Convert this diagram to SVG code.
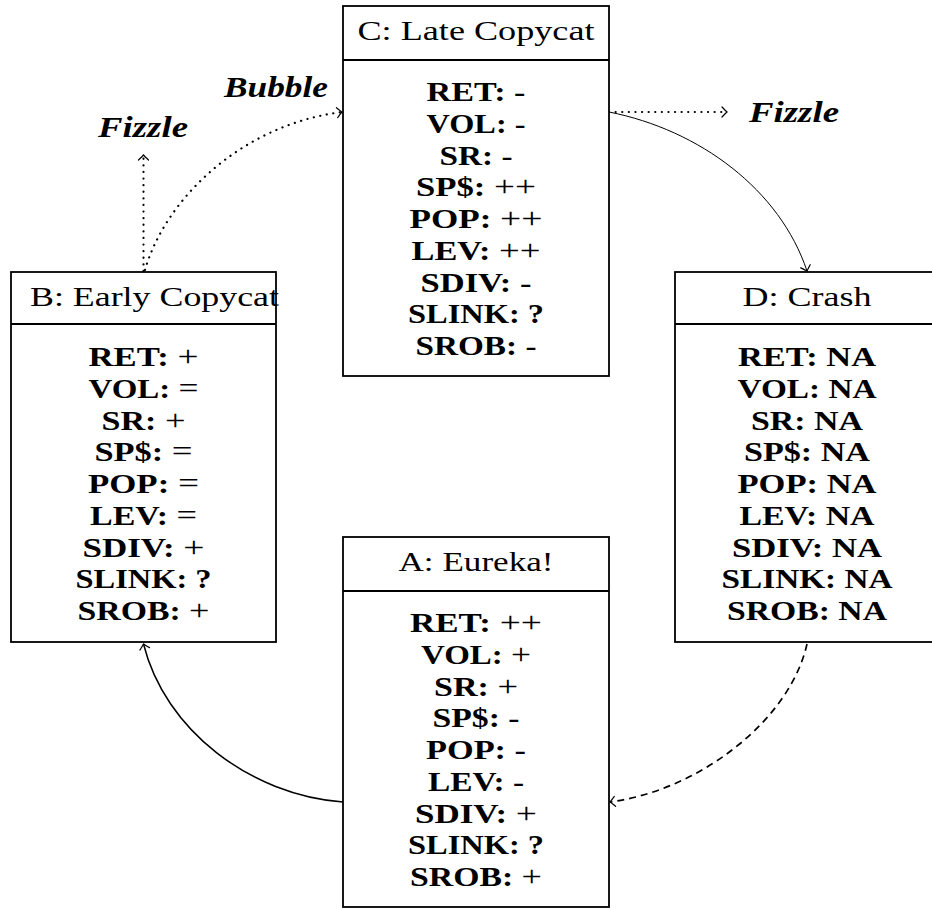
<svg xmlns="http://www.w3.org/2000/svg" width="932" height="909" viewBox="0 0 932 909">
<style>
.box{fill:#fff;stroke:#000;stroke-width:1.8}
.div{stroke:#000;stroke-width:1.8}
.h{font-family:"Liberation Serif",serif;font-size:28px;fill:#000}
.b{font-family:"Liberation Serif",serif;font-size:28px;font-weight:bold;fill:#000;text-anchor:middle}
.m{font-weight:normal;font-size:30px}
.lbl{font-family:"Liberation Serif",serif;font-size:30px;font-weight:bold;font-style:italic;fill:#000}
.c{fill:none;stroke:#000}
.thin{stroke-width:1}
.solid{stroke-width:1.5}
.dot{stroke-width:2.2;stroke-dasharray:0.1 6.5;stroke-linecap:round}
.dash{stroke-width:1.7;stroke-dasharray:7 5}
</style>
<defs>
<marker id="arr" markerUnits="userSpaceOnUse" markerWidth="14" markerHeight="14" viewBox="-7 -7 14 14" refX="0" refY="0" orient="auto" overflow="visible">
<path d="M-5,-5 Q-1.3,-1.1 0,0 Q-1.3,1.1 -5,5" fill="none" stroke="#000" stroke-width="1.2" stroke-dasharray="none" stroke-linecap="round"/>
</marker>
</defs>

<g id="connectors">
<path class="c thin" d="M609,112 C700,130 780,190 807,271" marker-end="url(#arr)"/>
<path class="c dot" d="M609,112 L727,112" marker-end="url(#arr)"/>
<path class="c dot" d="M145,270 C165,200 240,125 342,112" marker-end="url(#arr)"/>
<path class="c dot" d="M143.5,271 L143.5,155" marker-end="url(#arr)"/>
<path class="c solid" d="M343,802 C250,795 165,730 143.5,644" marker-end="url(#arr)"/>
<path class="c dash" d="M807,644 C790,720 700,790 610,802" marker-end="url(#arr)"/>
</g>

<g id="labels">
<text class="lbl" x="224" y="97" textLength="104" lengthAdjust="spacingAndGlyphs">Bubble</text>
<text class="lbl" x="98" y="137" textLength="90" lengthAdjust="spacingAndGlyphs">Fizzle</text>
<text class="lbl" x="749" y="122" textLength="90" lengthAdjust="spacingAndGlyphs">Fizzle</text>
</g>

<g id="nodeC">
<rect class="box" x="343" y="6" width="266" height="370"/>
<line class="div" x1="343" y1="60" x2="609" y2="60"/>
<text class="h" x="476" y="40" text-anchor="middle" textLength="237" lengthAdjust="spacingAndGlyphs">C: Late Copycat</text>
<text class="b" x="476" y="101" textLength="99" lengthAdjust="spacingAndGlyphs">RET: -</text>
<text class="b" x="476" y="132.75" textLength="99" lengthAdjust="spacingAndGlyphs">VOL: -</text>
<text class="b" x="476" y="164.5" textLength="73" lengthAdjust="spacingAndGlyphs">SR: -</text>
<text class="b" x="476" y="196.25" textLength="120" lengthAdjust="spacingAndGlyphs">SP$: <tspan class="m">++</tspan></text>
<text class="b" x="476" y="228" textLength="133" lengthAdjust="spacingAndGlyphs">POP: <tspan class="m">++</tspan></text>
<text class="b" x="476" y="259.75" textLength="129" lengthAdjust="spacingAndGlyphs">LEV: <tspan class="m">++</tspan></text>
<text class="b" x="476" y="291.5" textLength="111" lengthAdjust="spacingAndGlyphs">SDIV: -</text>
<text class="b" x="476" y="323.25" textLength="136" lengthAdjust="spacingAndGlyphs">SLINK: ?</text>
<text class="b" x="476" y="355" textLength="121" lengthAdjust="spacingAndGlyphs">SROB: -</text>
</g>

<g id="nodeB">
<rect class="box" x="11" y="272" width="265" height="370"/>
<line class="div" x1="11" y1="324" x2="276" y2="324"/>
<text class="h" x="30" y="306" textLength="249" lengthAdjust="spacingAndGlyphs">B: Early Copycat</text>
<text class="b" x="143.5" y="366" textLength="110" lengthAdjust="spacingAndGlyphs">RET: <tspan class="m">+</tspan></text>
<text class="b" x="143.5" y="397.75" textLength="110" lengthAdjust="spacingAndGlyphs">VOL: <tspan class="m">=</tspan></text>
<text class="b" x="143.5" y="429.5" textLength="84" lengthAdjust="spacingAndGlyphs">SR: <tspan class="m">+</tspan></text>
<text class="b" x="143.5" y="461.25" textLength="98" lengthAdjust="spacingAndGlyphs">SP$: <tspan class="m">=</tspan></text>
<text class="b" x="143.5" y="493" textLength="111" lengthAdjust="spacingAndGlyphs">POP: <tspan class="m">=</tspan></text>
<text class="b" x="143.5" y="524.75" textLength="107" lengthAdjust="spacingAndGlyphs">LEV: <tspan class="m">=</tspan></text>
<text class="b" x="143.5" y="556.5" textLength="122" lengthAdjust="spacingAndGlyphs">SDIV: <tspan class="m">+</tspan></text>
<text class="b" x="143.5" y="588.25" textLength="136" lengthAdjust="spacingAndGlyphs">SLINK: ?</text>
<text class="b" x="143.5" y="620" textLength="132" lengthAdjust="spacingAndGlyphs">SROB: <tspan class="m">+</tspan></text>
</g>

<g id="nodeD">
<rect class="box" x="675" y="272" width="264" height="370"/>
<line class="div" x1="675" y1="324" x2="939" y2="324"/>
<text class="h" x="807" y="306" text-anchor="middle" textLength="129" lengthAdjust="spacingAndGlyphs">D: Crash</text>
<text class="b" x="807" y="366" textLength="138" lengthAdjust="spacingAndGlyphs">RET: NA</text>
<text class="b" x="807" y="397.75" textLength="139" lengthAdjust="spacingAndGlyphs">VOL: NA</text>
<text class="b" x="807" y="429.5" textLength="112" lengthAdjust="spacingAndGlyphs">SR: NA</text>
<text class="b" x="807" y="461.25" textLength="126" lengthAdjust="spacingAndGlyphs">SP$: NA</text>
<text class="b" x="807" y="493" textLength="139" lengthAdjust="spacingAndGlyphs">POP: NA</text>
<text class="b" x="807" y="524.75" textLength="135" lengthAdjust="spacingAndGlyphs">LEV: NA</text>
<text class="b" x="807" y="556.5" textLength="150" lengthAdjust="spacingAndGlyphs">SDIV: NA</text>
<text class="b" x="807" y="588.25" textLength="171" lengthAdjust="spacingAndGlyphs">SLINK: NA</text>
<text class="b" x="807" y="620" textLength="160" lengthAdjust="spacingAndGlyphs">SROB: NA</text>
</g>

<g id="nodeA">
<rect class="box" x="343" y="537" width="266" height="370"/>
<line class="div" x1="343" y1="591" x2="609" y2="591"/>
<text class="h" x="476" y="571" text-anchor="middle" textLength="155" lengthAdjust="spacingAndGlyphs">A: Eureka!</text>
<text class="b" x="476" y="632" textLength="132" lengthAdjust="spacingAndGlyphs">RET: <tspan class="m">++</tspan></text>
<text class="b" x="476" y="663.75" textLength="110" lengthAdjust="spacingAndGlyphs">VOL: <tspan class="m">+</tspan></text>
<text class="b" x="476" y="695.5" textLength="84" lengthAdjust="spacingAndGlyphs">SR: <tspan class="m">+</tspan></text>
<text class="b" x="476" y="727.25" textLength="87" lengthAdjust="spacingAndGlyphs">SP$: -</text>
<text class="b" x="476" y="759" textLength="100" lengthAdjust="spacingAndGlyphs">POP: -</text>
<text class="b" x="476" y="790.75" textLength="96" lengthAdjust="spacingAndGlyphs">LEV: -</text>
<text class="b" x="476" y="822.5" textLength="122" lengthAdjust="spacingAndGlyphs">SDIV: <tspan class="m">+</tspan></text>
<text class="b" x="476" y="854.25" textLength="136" lengthAdjust="spacingAndGlyphs">SLINK: ?</text>
<text class="b" x="476" y="886" textLength="132" lengthAdjust="spacingAndGlyphs">SROB: <tspan class="m">+</tspan></text>
</g>
</svg>
